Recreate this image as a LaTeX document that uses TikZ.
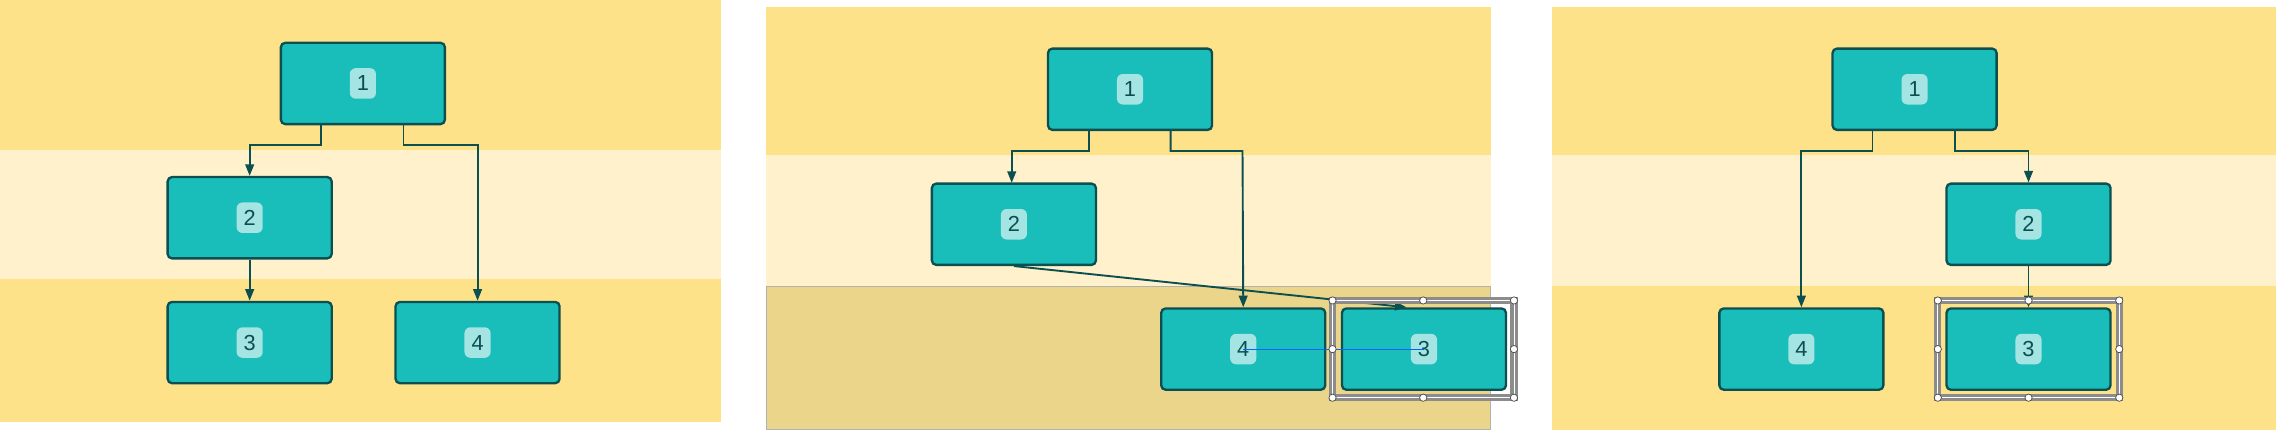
\documentclass[tikz,border=0pt]{standalone}
\usepackage{fontspec}
\setmainfont{Liberation Sans}
\usetikzlibrary{arrows.meta}
\definecolor{bandDark}{HTML}{FEE28A}
\definecolor{bandLight}{HTML}{FEF1CC}
\definecolor{bandSel}{HTML}{EBD58A}
\definecolor{boxFill}{HTML}{19BDBA}
\definecolor{boxLine}{HTML}{0C4F50}
\definecolor{badge}{HTML}{A4E4E3}
\tikzset{
  box/.style={draw=boxLine,fill=boxFill,line width=1.6pt,rounded corners=3pt,
    minimum width=113pt,minimum height=56pt,inner sep=0pt},
  tag/.style={fill=badge,rounded corners=4pt,text=boxLine,font=\fontsize{15}{15}\selectfont,
    minimum width=18pt,minimum height=21pt,inner sep=0pt},
  link/.style={draw=boxLine,line width=1.3pt,-{Triangle[length=8pt,width=6pt]}},
  handle/.style={circle,draw=black!70,fill=white,inner sep=0pt,minimum size=5pt,line width=0.5pt},
  selbox/.style={draw=black!45,line width=2.2pt,double=white,double distance=0.6pt}
}
\newcommand{\blk}[3]{\node[box] (#1) at (#2) {}; \node[tag] at (#1) {#3};}
% selection frame: left, top, right, bottom
\newcommand{\selframe}[4]{%
  \draw[selbox] (#1,#2) rectangle (#3,#4);
  \foreach \hx/\hy in {#1/#2,#1/#4,#3/#2,#3/#4}
    \node[handle] at (\hx,\hy) {};
  \node[handle] at ({(#1+#3)/2},#2) {};
  \node[handle] at ({(#1+#3)/2},#4) {};
  \node[handle] at (#1,{(#2+#4)/2}) {};
  \node[handle] at (#3,{(#2+#4)/2}) {};}
\begin{document}
\begin{tikzpicture}[x=1pt,y=-1pt]
\useasboundingbox (0,0) rectangle (1568,296.2);
% panel one
\fill[bandDark] (0,0) rectangle (497,103);
\fill[bandLight] (0,103) rectangle (497,192);
\fill[bandDark] (0,192) rectangle (497,291);
\blk{a1}{250,57.5}{1}
\blk{a2}{172,150}{2}
\blk{a3}{172,236}{3}
\blk{a4}{329,236}{4}
\draw[link] ([xshift=-29pt]a1.south) |- (172,100) -- (a2.north);
\draw[link] ([xshift=28pt]a1.south) |- (329,100) -- (a4.north);
\draw[link] (a2.south) -- (a3.north);
% panel two
\fill[bandDark] (528,5) rectangle (1027,107);
\fill[bandLight] (528,107) rectangle (1027,197);
\filldraw[fill=bandSel,draw=black!30,line width=0.6pt] (528,197) rectangle (1027,296);
\blk{b1}{778.5,61.5}{1}
\blk{b2}{698.5,154.5}{2}
\blk{b4}{856.5,240.5}{4}
\blk{b3}{981,240.5}{3}
\draw[link] ([xshift=-28pt]b1.south) |- (697,104) -- (697,126);
\draw[link] ([xshift=28pt]b1.south) |- (856,104) -- (b4.north);
\draw[link] (b2.south) -- ([xshift=-12pt]b3.north);
\draw[blue!60!cyan,line width=0.7pt] (b4.center) -- (b3.center);
\selframe{918}{207}{1043}{274}
% panel three
\fill[bandDark] (1069,5) rectangle (1568,107);
\fill[bandLight] (1069,107) rectangle (1568,197);
\fill[bandDark] (1069,197) rectangle (1568,296);
\blk{c1}{1319,61.5}{1}
\blk{c2}{1397.5,154.5}{2}
\blk{c4}{1241,240.5}{4}
\blk{c3}{1397.5,240.5}{3}
\draw[link] ([xshift=-29pt]c1.south) |- (1241,104) -- (c4.north);
\draw[link] ([xshift=28pt]c1.south) |- (1397.5,104) -- (c2.north);
\draw[link] (c2.south) -- (c3.north);
\selframe{1335}{207}{1460}{274}
\end{tikzpicture}
\end{document}
